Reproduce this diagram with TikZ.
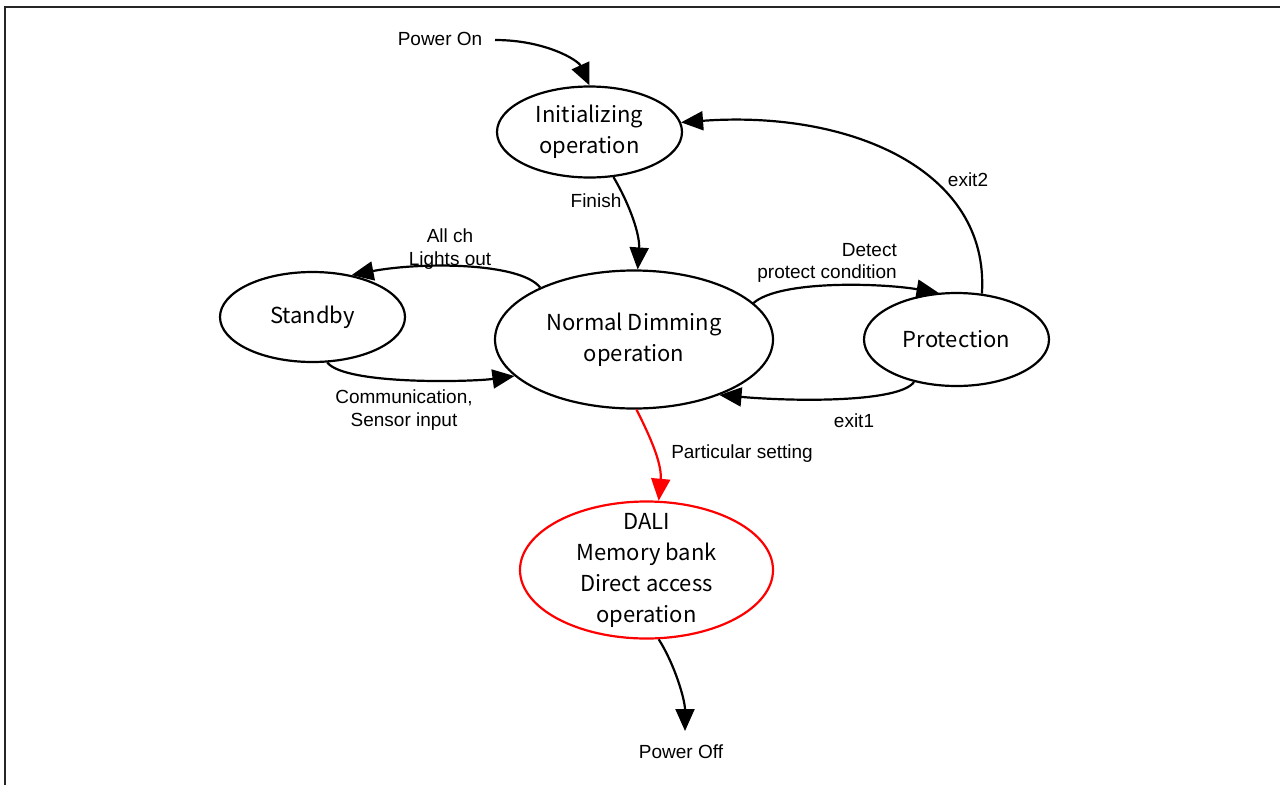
\documentclass[tikz,border=0pt]{standalone}
\usepackage{fontspec}
\setmainfont{Liberation Sans}
\newfontfamily\jpfont{Noto Sans CJK JP}
\usetikzlibrary{shapes.geometric,arrows.meta}
\begin{document}
\begin{tikzpicture}[x=1pt,y=-1pt,
  state/.style={ellipse,draw,line width=2.2pt,inner xsep=0pt,inner ysep=-30pt,align=center,
    font=\jpfont\fontsize{22}{31}\selectfont},
  lbl/.style={inner sep=0pt,align=center,font=\fontsize{19}{22.5}\selectfont},
  conn/.style={line width=2.2pt,-{Triangle[length=22pt,width=19pt]}},
  frame/.style={line width=2pt,draw=black!85}]
\useasboundingbox (0,0) rectangle (1280,785);
\draw[frame] (5,785) -- (5,7) -- (1280,7);

\node[state,minimum width=185pt,minimum height=91pt] (init) at (589.5,132) {Initializing\\operation};
\node[state,minimum width=185pt,minimum height=90pt] (standby) at (312.5,317) {Standby};
\node[state,minimum width=278pt,minimum height=138pt] (normal) at (634,339.5) {Normal Dimming\\operation};
\node[state,minimum width=185pt,minimum height=93pt] (prot) at (956.5,339.5) {Protection};
\node[state,draw=red,minimum width=253pt,minimum height=137pt] (dali) at (646.5,570) {DALI\\Memory bank\\Direct access\\operation};

\node[lbl] (tpon) at (440,39) {Power On};
\node[lbl] (tpoff) at (681,752) {Power Off};
\node[lbl] (lfinish) at (596,201) {Finish};
\node[lbl] (lallch) at (450,249) {All ch\\Lights out};
\node[lbl] (lcomm) at (404,410) {Communication,\\Sensor input};
\node[lbl,align=right,anchor=east] (ldetect) at (897,263) {Detect\\protect condition};
\node[lbl] (lexit2) at (968,180) {exit2};
\node[lbl] (lexit1) at (854,421) {exit1};
\node[lbl] (lpart) at (742,454) {Particular setting};

\coordinate (pon) at (495,40);
\coordinate (poff) at (685,731);

\draw[conn] (pon) .. controls (545,40) and (578,60) .. (init.north);
\draw[conn] (init.-62) .. controls (630,205) and (640,235) .. (normal.87);
\draw[conn] (normal.151) .. controls (520,262) and (420,262) .. (standby.47);
\draw[conn] (standby.-72) .. controls (345,385) and (470,382) .. (normal.197);
\draw[conn] (normal.17) .. controls (780,280) and (880,283) .. (prot.111);
\draw[conn] (prot.61) .. controls (990,170) and (850,110) .. (init.6);
\draw[conn] (prot.-135) .. controls (900,402) and (800,402) .. (normal.-33);
\draw[conn,draw=red] (normal.-88) .. controls (652,440) and (662,465) .. (dali.80);
\draw[conn] (dali.-80) .. controls (675,665) and (685,700) .. (poff);
\end{tikzpicture}
\end{document}
